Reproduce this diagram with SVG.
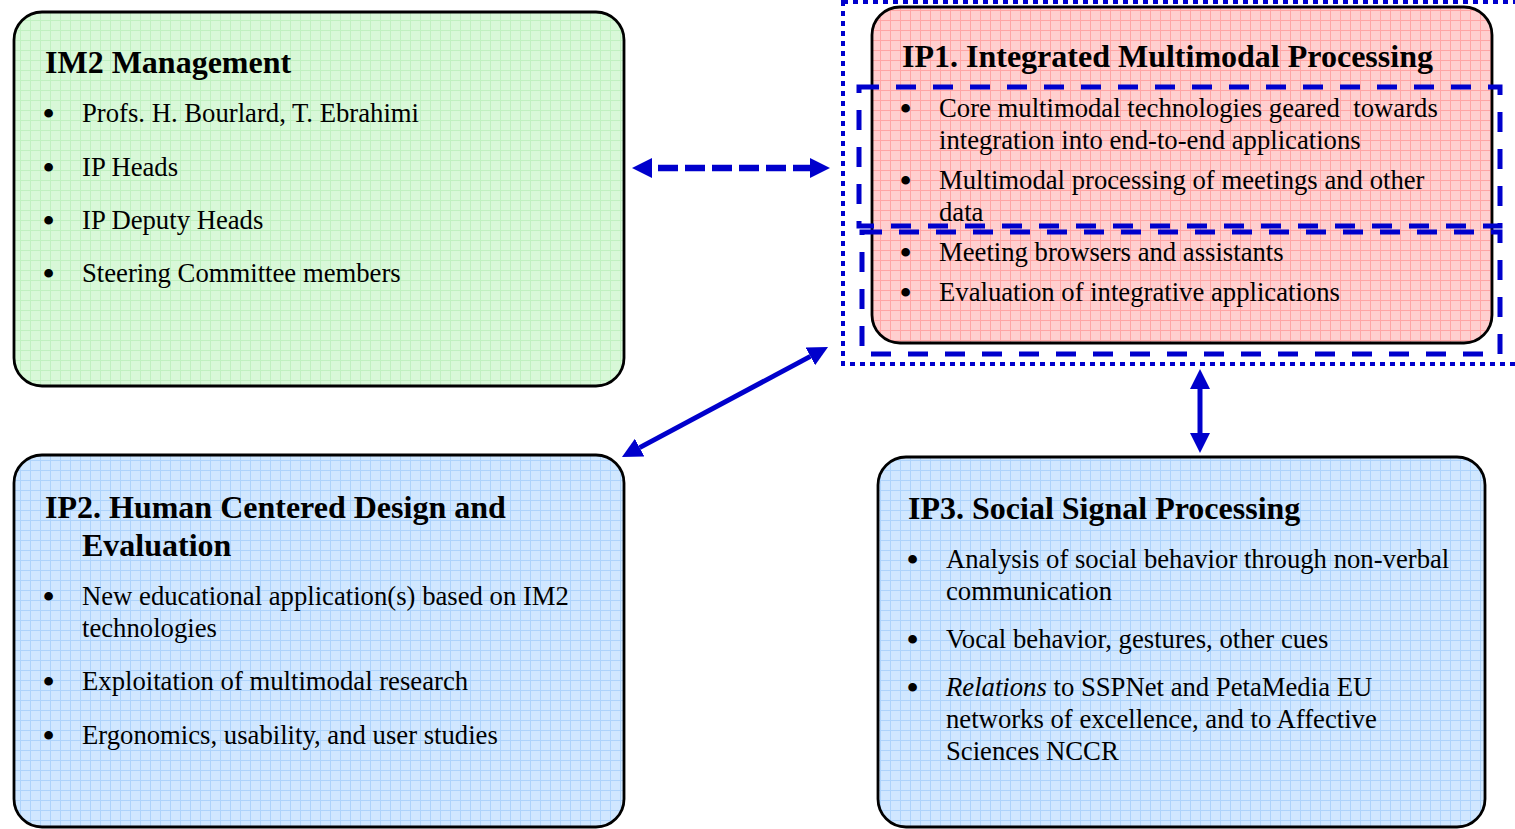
<svg xmlns="http://www.w3.org/2000/svg" width="1515" height="829" viewBox="0 0 1515 829">
<style>
.box{stroke:#000;stroke-width:2.8}
.t{font-family:"Liberation Serif","Times New Roman",serif;fill:#000}
.h{font-size:32px;font-weight:bold}
.b{font-size:26.7px}
.bl{font-family:"Liberation Serif","Times New Roman",serif;font-size:32px;font-weight:bold;fill:#000}
.blue{fill:none;stroke:#0000cc}
</style>
<defs>
<pattern id="gGreen" patternUnits="userSpaceOnUse" width="10" height="10">
<rect width="10" height="10" fill="#d8f8d8"/>
<path d="M0 0.5H10M0.5 0V10" stroke="#c0f0c0" stroke-width="1"/>
</pattern>
<pattern id="gPink" patternUnits="userSpaceOnUse" width="10" height="10">
<rect width="10" height="10" fill="#ffcfcf"/>
<path d="M0 0.5H10M0.5 0V10" stroke="#ffa5a5" stroke-width="1"/>
</pattern>
<pattern id="gBlue" patternUnits="userSpaceOnUse" width="10" height="10">
<rect width="10" height="10" fill="#d0e7ff"/>
<path d="M0 0.5H10M0.5 0V10" stroke="#add3fb" stroke-width="1"/>
</pattern>
<marker id="ah" viewBox="0 -10 20 20" refX="0" refY="0" markerWidth="20" markerHeight="20" markerUnits="userSpaceOnUse" orient="auto-start-reverse">
<path d="M0,-10 L20,0 L0,10 Z" fill="#0000cc"/>
</marker>
</defs>

<g id="im2">
<rect class="box" x="14" y="12" width="610" height="374" rx="28" fill="url(#gGreen)"/>
<text class="t h" x="45" y="73">IM2 Management</text>
<g class="bl">
<text x="43" y="124">•</text><text x="43" y="178">•</text><text x="43" y="231">•</text><text x="43" y="284">•</text>
</g>
<g class="t b">
<text x="82" y="122">Profs. H. Bourlard, T. Ebrahimi</text>
<text x="82" y="176">IP Heads</text>
<text x="82" y="229">IP Deputy Heads</text>
<text x="82" y="282">Steering Committee members</text>
</g>
</g>

<g id="ip1">
<rect class="box" x="872" y="7" width="620" height="336" rx="28" fill="url(#gPink)"/>
<text class="t h" x="902" y="67">IP1. Integrated Multimodal Processing</text>
<g class="bl">
<text x="900" y="119">•</text><text x="900" y="191">•</text><text x="900" y="263">•</text><text x="900" y="303">•</text>
</g>
<g class="t b">
<text x="939" y="117" xml:space="preserve">Core multimodal technologies geared  towards</text>
<text x="939" y="149">integration into end-to-end applications</text>
<text x="939" y="189">Multimodal processing of meetings and other</text>
<text x="939" y="221">data</text>
<text x="939" y="261">Meeting browsers and assistants</text>
<text x="939" y="301">Evaluation of integrative applications</text>
</g>
</g>

<g id="ip1-groups">
<rect class="blue" x="843" y="2" width="690" height="362" stroke-width="4" stroke-dasharray="5 5"/>
<rect class="blue" x="859" y="87" width="641" height="139" stroke-width="5" stroke-dasharray="20 17"/>
<rect class="blue" x="862" y="232" width="638" height="122" stroke-width="5" stroke-dasharray="20 17"/>
</g>

<g id="ip2">
<rect class="box" x="14" y="455" width="610" height="372" rx="28" fill="url(#gBlue)"/>
<text class="t h" x="45" y="518">IP2. Human Centered Design and</text>
<text class="t h" x="82" y="556">Evaluation</text>
<g class="bl">
<text x="43" y="607">•</text><text x="43" y="692">•</text><text x="43" y="746">•</text>
</g>
<g class="t b">
<text x="82" y="605">New educational application(s) based on IM2</text>
<text x="82" y="637">technologies</text>
<text x="82" y="690">Exploitation of multimodal research</text>
<text x="82" y="744">Ergonomics, usability, and user studies</text>
</g>
</g>

<g id="ip3">
<rect class="box" x="878" y="457" width="607" height="370" rx="28" fill="url(#gBlue)"/>
<text class="t h" x="908" y="519">IP3. Social Signal Processing</text>
<g class="bl">
<text x="907" y="570">•</text><text x="907" y="650">•</text><text x="907" y="698">•</text>
</g>
<g class="t b">
<text x="946" y="568">Analysis of social behavior through non-verbal</text>
<text x="946" y="600">communication</text>
<text x="946" y="648">Vocal behavior, gestures, other cues</text>
<text x="946" y="696"><tspan font-style="italic">Relations</tspan> to SSPNet and PetaMedia EU</text>
<text x="946" y="728">networks of excellence, and to Affective</text>
<text x="946" y="760">Sciences NCCR</text>
</g>
</g>

<g id="connectors">
<line class="blue" x1="652" y1="168" x2="810" y2="168" stroke-width="6.5" stroke-dasharray="20 7" stroke-dashoffset="-6" marker-start="url(#ah)" marker-end="url(#ah)"/>
<line class="blue" x1="639.6" y1="447.6" x2="810.4" y2="356.4" stroke-width="5" marker-start="url(#ah)" marker-end="url(#ah)"/>
<line class="blue" x1="1200" y1="389" x2="1200" y2="433" stroke-width="5" marker-start="url(#ah)" marker-end="url(#ah)"/>
</g>
</svg>
